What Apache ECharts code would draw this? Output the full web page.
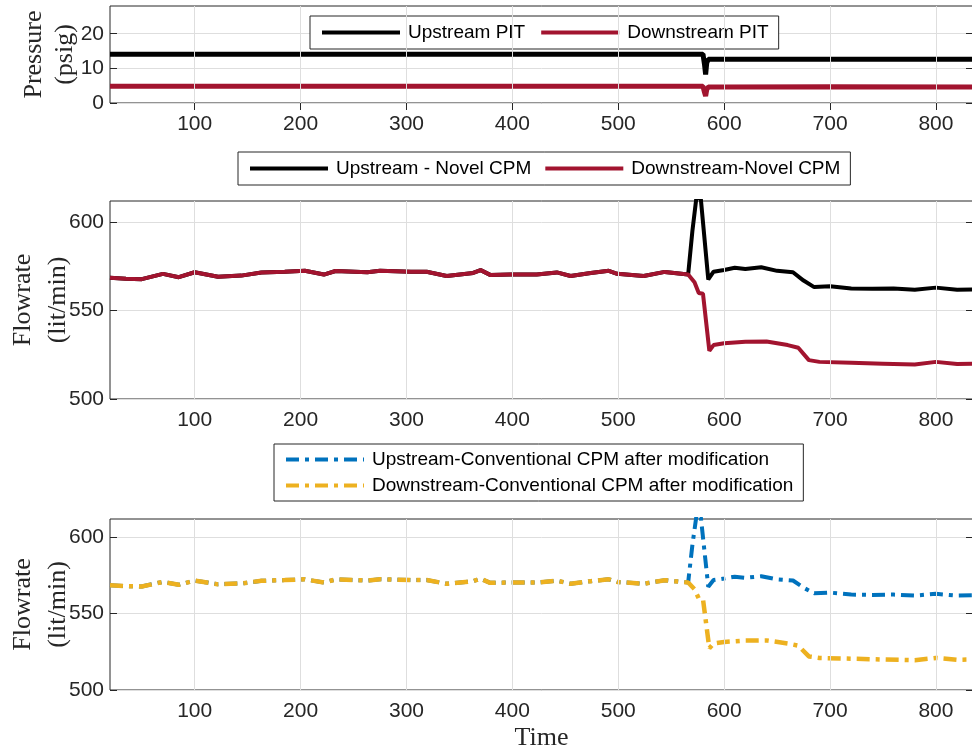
<!DOCTYPE html>
<html>
<head>
<meta charset="utf-8">
<script src="https://cdn.jsdelivr.net/npm/echarts@6/dist/echarts.min.js"></script>
<style>
  html, body { margin: 0; padding: 0; background: #fff; }
  #main { width: 972px; height: 754px; }
</style>
</head>
<body>
<div id="main"></div>
<script>
// time ticks and y ticks
var xTicks = [100, 200, 300, 400, 500, 600, 700, 800];
var pTicks = [0, 10, 20];
var fTicks = [500, 550, 600];

// pressure (psig)
var pTime = [20, 150, 300, 450, 580, 581.5, 582.5, 583.5, 585, 600, 700, 835];
var upPIT = [14.1, 14.1, 14.1, 14.1, 14.1, 11.0, 8.2, 11.5, 12.6, 12.6, 12.6, 12.6];
var downPIT = [4.8, 4.8, 4.8, 4.8, 4.8, 3.0, 2.0, 3.8, 4.6, 4.6, 4.7, 4.6];

// flowrate (lit/min) - shared baseline before the event
var baseT = [20, 35, 50, 70, 85, 100, 122, 144, 163, 185, 204, 222, 233, 263, 275, 304, 319, 338, 363, 370, 379, 398, 423, 442, 455, 474, 491, 499, 524, 544, 566];
var baseV = [568.6, 568.0, 567.8, 570.8, 568.9, 571.7, 569.2, 569.8, 571.5, 572.0, 572.5, 570.4, 572.4, 571.7, 572.5, 572.0, 572.0, 569.6, 571.3, 572.9, 570.2, 570.4, 570.4, 571.6, 569.6, 571.3, 572.5, 570.8, 569.6, 571.9, 570.4];

var upT = [570, 574, 578, 585, 590, 600, 610, 620, 635, 650, 665, 675, 685, 700, 720, 740, 760, 780, 800, 820, 835];
var upV = [595, 615, 613, 567.6, 572, 573, 574.2, 573.5, 574.5, 572.5, 571.7, 567, 563.3, 563.8, 562.5, 562.3, 562.5, 561.8, 563, 561.8, 562];

var downT = [572, 576, 580, 586, 590, 600, 620, 640, 660, 670, 680, 690, 720, 750, 780, 800, 820, 835];
var downV = [566, 560, 559.5, 527.3, 530.5, 531.5, 532.4, 532.5, 530.5, 529, 522, 521, 520.5, 520, 519.5, 521, 519.8, 520];

function pairs(t, v) {
  var out = [];
  for (var i = 0; i < t.length; i++) out.push([t[i], v[i]]);
  return out;
}
var upFlow = pairs(baseT.concat(upT), baseV.concat(upV));
var downFlow = pairs(baseT.concat(downT), baseV.concat(downV));

var chart = echarts.init(document.getElementById('main'));

var sans = 'Liberation Sans';
var serif = 'Liberation Serif';
var axisColor = '#262626';
var gridColor = '#dedede';

var grids = [
  {left: 110, top: 6, height: 97},
  {left: 110, top: 201, height: 198},
  {left: 110, top: 519, height: 171}
];
grids.forEach(function (g) {
  g.right = -1;
  g.show = true;
  g.borderColor = axisColor;
  g.borderWidth = 1;
  g.containLabel = false;
  g.outerBoundsMode = 'none';
});

var xAxes = [], yAxes = [];
var yRange = [
  [0, 28, 10, pTicks, 'Pressure\n(psig)', 29, 31],
  [500, 612, 50, fTicks, 'Flowrate\n(lit/min)', 34, 35],
  [500, 612, 50, fTicks, 'Flowrate\n(lit/min)', 34, 35]
];
for (var i = 0; i < 3; i++) {
  xAxes.push({
    type: 'value', gridIndex: i, min: 20, max: 835, position: 'bottom',
    name: i === 2 ? 'Time' : '', nameLocation: 'middle', nameGap: 35, nameMoveOverlap: false,
    nameTextStyle: {fontFamily: serif, fontSize: 26, color: axisColor},
    axisLine: {show: false},
    axisTick: {inside: true, length: 7, customValues: xTicks, lineStyle: {color: axisColor}},
    axisLabel: {customValues: xTicks, fontFamily: sans, fontSize: 21, color: axisColor, margin: 11},
    splitLine: {show: false}
  });
  yAxes.push({
    type: 'value', gridIndex: i, min: yRange[i][0], max: yRange[i][1], interval: yRange[i][2], position: 'left',
    name: yRange[i][4], nameLocation: 'middle', nameGap: yRange[i][5], nameRotate: 90, nameMoveOverlap: false,
    nameTextStyle: {fontFamily: serif, fontSize: 26, color: axisColor, lineHeight: yRange[i][6]},
    axisLine: {show: false},
    axisTick: {inside: true, length: 7, customValues: yRange[i][3], lineStyle: {color: axisColor}},
    axisLabel: {customValues: yRange[i][3], fontFamily: sans, fontSize: 21, color: axisColor, margin: 6},
    splitLine: {show: true, lineStyle: {color: gridColor, width: 1}}
  });
}
// mirrored ticks on top and right
for (var j = 0; j < 3; j++) {
  xAxes.push({
    type: 'value', gridIndex: j, min: 20, max: 835, position: 'top',
    axisLine: {show: false}, axisLabel: {show: false}, splitLine: {show: false},
    axisTick: {inside: true, length: 7, customValues: xTicks, lineStyle: {color: axisColor}}
  });
  yAxes.push({
    type: 'value', gridIndex: j, min: yRange[j][0], max: yRange[j][1], position: 'right',
    axisLine: {show: false}, axisLabel: {show: false}, splitLine: {show: false},
    axisTick: {inside: true, length: 7, customValues: yRange[j][3], lineStyle: {color: axisColor}}
  });
}

function line(name, data, idx, color, width, type) {
  return {
    name: name, type: 'line', xAxisIndex: idx, yAxisIndex: idx, z: 3,
    data: data, symbol: 'none', showSymbol: false, clip: true, animation: false,
    lineStyle: {color: color, width: width, type: type || 'solid'},
    itemStyle: {color: color}
  };
}

// vertical grid lines at the time ticks, drawn under the data
function vGrid(idx) {
  return {
    type: 'line', xAxisIndex: idx, yAxisIndex: idx, z: 1, data: [], silent: true,
    markLine: {
      silent: true, symbol: 'none', animation: false,
      label: {show: false},
      lineStyle: {color: gridColor, width: 1, type: 'solid'},
      emphasis: {disabled: true},
      data: xTicks.map(function (t) { return {xAxis: t}; })
    }
  };
}

var legendBase = {
  backgroundColor: '#fff', borderColor: axisColor, borderWidth: 1,
  itemWidth: 78, itemHeight: 14,
  itemStyle: {opacity: 0, borderWidth: 0},
  lineStyle: {width: 4},
  textStyle: {fontFamily: sans, fontSize: 19, color: '#000', padding: [0, 0, 0, 3]}
};

var option = {
  backgroundColor: '#fff',
  animation: false,
  grid: grids,
  xAxis: xAxes,
  yAxis: yAxes,
  legend: [
    Object.assign({}, legendBase, {
      data: ['Upstream PIT', 'Downstream PIT'],
      left: 310, top: 16, padding: [7, 10], itemGap: 14
    }),
    Object.assign({}, legendBase, {
      data: ['Upstream - Novel CPM', 'Downstream-Novel CPM'],
      left: 238, top: 152, padding: [7, 10], itemGap: 12
    }),
    Object.assign({}, legendBase, {
      data: ['Upstream-Conventional CPM after modification', 'Downstream-Conventional CPM after modification'],
      left: 274, top: 444, orient: 'vertical', padding: [6, 10], itemGap: 7
    })
  ],
  series: [
    vGrid(0), vGrid(1), vGrid(2),
    line('Upstream PIT', pairs(pTime, upPIT), 0, '#000000', 5),
    line('Downstream PIT', pairs(pTime, downPIT), 0, '#A2142F', 5),
    line('Upstream - Novel CPM', upFlow, 1, '#000000', 4),
    line('Downstream-Novel CPM', downFlow, 1, '#A2142F', 4),
    line('Upstream-Conventional CPM after modification', upFlow, 2, '#0072BD', 4, [13, 6, 4, 6]),
    line('Downstream-Conventional CPM after modification', downFlow, 2, '#EDB120', 4.5, [13, 6, 4, 6])
  ]
};
chart.setOption(option);
</script>
</body>
</html>
